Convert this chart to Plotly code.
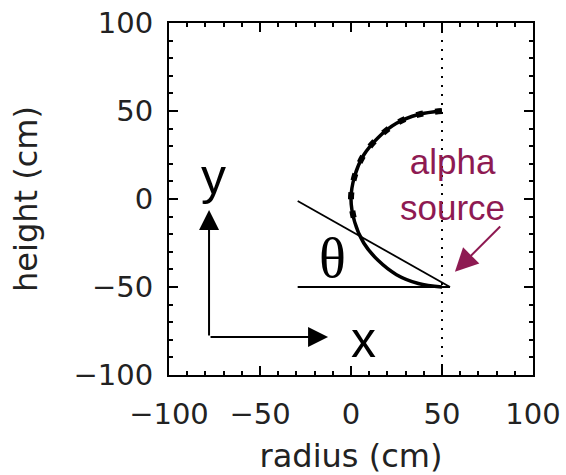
import plotly.graph_objects as go

# Data
arc_x = [50, 37, 25, 15, 7, 2, 0, 2, 7, 15, 25, 37, 50]
arc_y = [50, 48, 43, 35, 25, 13, 0, -13, -25, -35, -43, -48, -50]
dash_x = [50, 37, 25, 15, 7, 2, 0, 2]
dash_y = [50, 48, 43, 35, 25, 13, 0, -13]
source_x = [50, 50]
source_y = [-100, 100]
x_ticks = [-100, -50, 0, 50, 100]
y_ticks = [-100, -50, 0, 50, 100]
tick_text = ["−100", "−50", "0", "50", "100"]

fig = go.Figure()
fig.add_trace(go.Scatter(x=source_x, y=source_y, mode="lines",
                         line=dict(color="black", width=2, dash="2px,7px"),
                         hoverinfo="skip"))
fig.add_trace(go.Scatter(x=arc_x, y=arc_y, mode="lines",
                         line=dict(color="black", width=3.5, shape="spline"),
                         hoverinfo="skip"))
fig.add_trace(go.Scatter(x=dash_x, y=dash_y, mode="lines",
                         line=dict(color="black", width=6, shape="spline", dash="7px,12px"),
                         hoverinfo="skip"))

# angle construction lines
fig.add_shape(type="line", x0=-29.3, y0=-50, x1=54.4, y1=-50,
              line=dict(color="black", width=1.8))
fig.add_shape(type="line", x0=-29.3, y0=-1.1, x1=54.4, y1=-50,
              line=dict(color="black", width=1.8))

ann = []
ann.append(dict(x=-78, y=-6.3, ax=-78, ay=-78.4, xref="x", yref="y", axref="x", ayref="y",
                showarrow=True, arrowhead=2, arrowsize=2, arrowwidth=2, arrowcolor="black", text=""))
ann.append(dict(x=-12.6, y=-78.4, ax=-78, ay=-78.4, xref="x", yref="y", axref="x", ayref="y",
                showarrow=True, arrowhead=2, arrowsize=2, arrowwidth=2, arrowcolor="black", text=""))
ann.append(dict(x=57.1, y=-41.3, ax=82.8, ay=-14.8, xref="x", yref="y", axref="x", ayref="y",
                showarrow=True, arrowhead=2, arrowsize=2.3, arrowwidth=2, arrowcolor="#8e1a52", text=""))
ann.append(dict(x=-75.8, y=12.5, text="y", showarrow=False, xref="x", yref="y",
                font=dict(family="Liberation Sans", size=50, color="black")))
ann.append(dict(x=6.6, y=-80, text="x", showarrow=False, xref="x", yref="y",
                font=dict(family="Liberation Sans", size=50, color="black")))
ann.append(dict(x=-9.9, y=-33.5, text="θ", showarrow=False, xref="x", yref="y",
                font=dict(family="Liberation Serif", size=56, color="black")))
ann.append(dict(x=56, y=8, text="alpha<br>source", showarrow=False, xref="x", yref="y",
                font=dict(family="Liberation Sans", size=35, color="#8e1a52")))

axis_common = dict(
    range=[-100, 100], tickmode="array", showgrid=False, zeroline=False,
    showline=True, linecolor="black", linewidth=2, mirror="ticks",
    ticks="inside", ticklen=9, tickwidth=2, tickcolor="black",
    tickfont=dict(family="DejaVu Sans", size=29, color="#222"),
    automargin=False,
    minor=dict(ticks="inside", dtick=10, ticklen=4, tickwidth=2, tickcolor="black"),
)

fig.update_layout(
    width=566, height=475,
    margin=dict(l=169, r=33, t=23, b=100),
    paper_bgcolor="white", plot_bgcolor="white",
    showlegend=False,
    annotations=ann,
    xaxis=dict(**axis_common, tickvals=x_ticks, ticktext=tick_text, ticklabelstandoff=12,
               title=dict(text="radius (cm)", standoff=18,
                          font=dict(family="DejaVu Sans", size=32, color="#222"))),
    yaxis=dict(**axis_common, tickvals=y_ticks, ticktext=tick_text, ticklabelstandoff=8,
               title=dict(text="height (cm)", standoff=26,
                          font=dict(family="DejaVu Sans", size=32, color="#222"))),
)

fig.write_html("out.html")
